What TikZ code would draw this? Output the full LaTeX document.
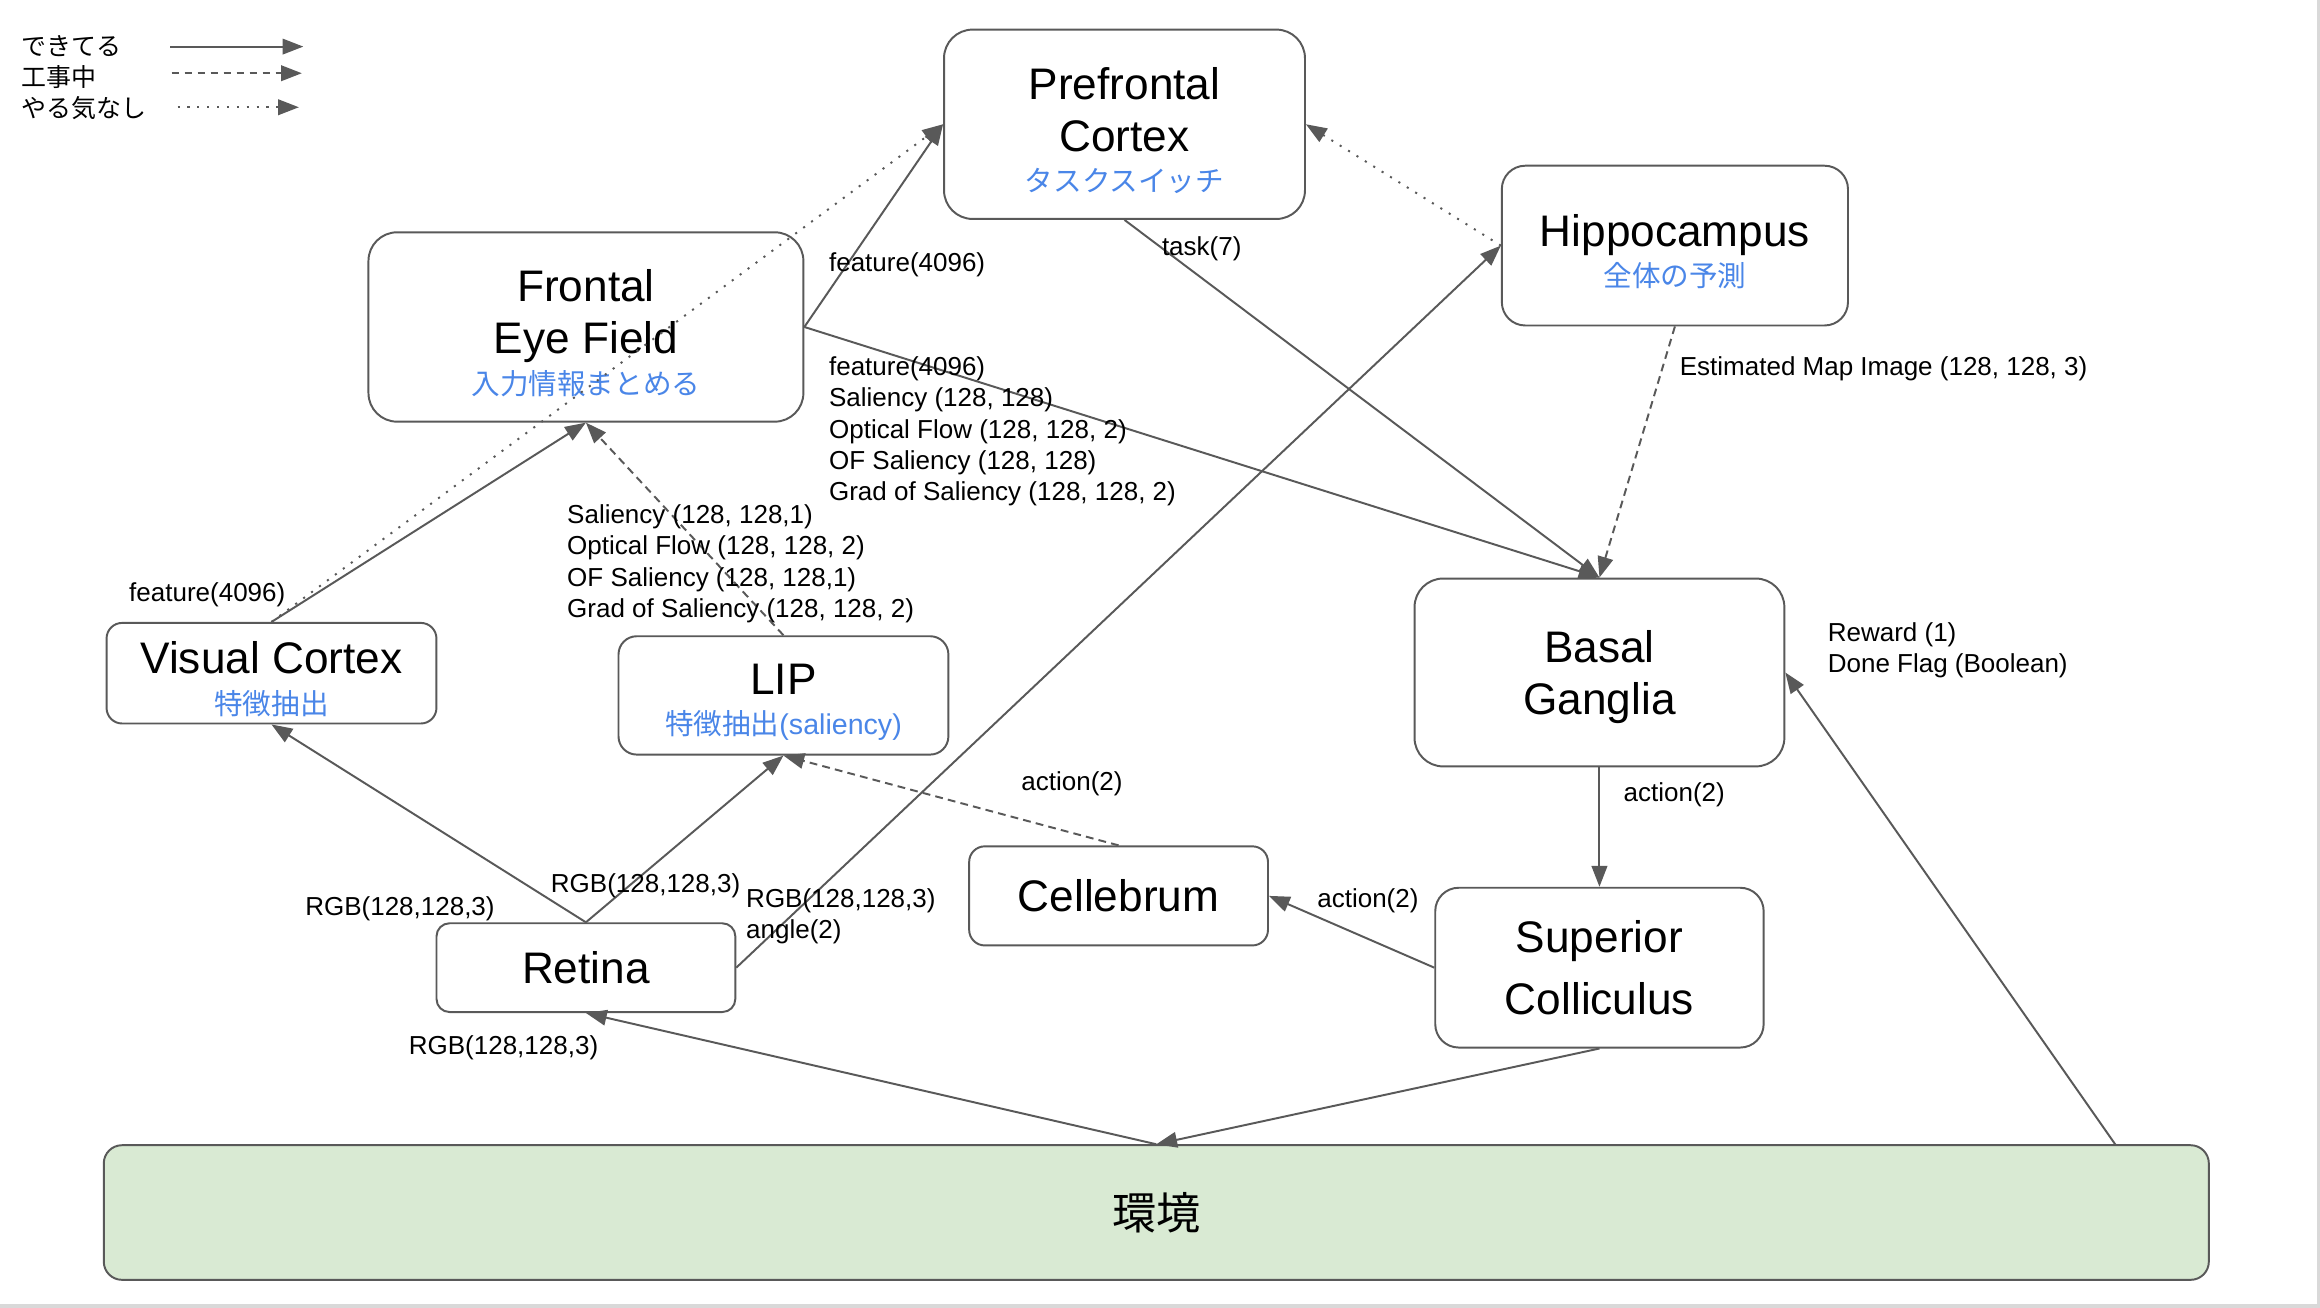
\documentclass[tikz,border=0pt]{standalone}
\usepackage{fontspec}
\setmainfont{Liberation Sans}
\newfontfamily\jp{Noto Sans CJK JP}
\usepackage{tikz}
\usetikzlibrary{arrows.meta}
\definecolor{linegray}{HTML}{595959}
\definecolor{subblue}{HTML}{4A86E8}
\definecolor{envgreen}{HTML}{D9EAD3}
\definecolor{edgegray}{HTML}{D9D9D9}
\newcommand\bigtxt{\fontsize{17}{20}\selectfont}
\newcommand\subtxt{\fontsize{11}{14.5}\selectfont\color{subblue}}
\newcommand\lbltxt{\fontsize{10}{12.1}\selectfont}
\newcommand\keytxt{\fontsize{9.6}{11}\selectfont\jp}
\newcommand\toprule{\rule{0pt}{17pt}}

\begin{document}
\begin{tikzpicture}[x=0.02cm,y=-0.02cm,
  area/.style={draw=linegray,line width=0.75pt,fill=white,align=center,inner sep=0pt,font=\bigtxt,rounded corners=#1},
  area/.default=10pt,
  lbl/.style={anchor=west,align=left,inner sep=0pt,font=\lbltxt,yshift=-1.1pt},
  key/.style={anchor=west,inner sep=0pt,font=\keytxt},
  conn/.style={draw=linegray,line width=0.75pt,-{Triangle[length=8pt,width=6pt]}},
  wip/.style={conn,dash pattern=on 3pt off 2pt},
  nah/.style={conn,dash pattern=on 0.8pt off 3pt}]
\useasboundingbox (0,0) rectangle (1568,884);
\fill[white] (0,0) rectangle (1568,884);
\fill[edgegray] (1566,0) rectangle (1568,884);
\fill[edgegray] (0,881.3) rectangle (1568,884);

\node[key] (k1) at (14,31.5) {できてる};
\node[key] (k2) at (14,52) {工事中};
\node[key] (k3) at (14,73) {やる気なし};
\coordinate (k1a) at (115,31.5); \coordinate (k1b) at (205,31.5);
\coordinate (k2a) at (116,49.5); \coordinate (k2b) at (204,49.5);
\coordinate (k3a) at (120,72.5); \coordinate (k3b) at (202,72.5);
\draw[conn] (k1a) -- (k1b);
\draw[wip] (k2a) -- (k2b);
\draw[nah] (k3a) -- (k3b);

\node[area=11pt,minimum width=4.88cm,minimum height=2.56cm] (pfc) at (760,84) {\toprule Prefrontal\\Cortex\\[-4.5pt]\subtxt{\jp タスクスイッチ}};
\node[area=9pt,minimum width=4.68cm,minimum height=2.16cm] (hip) at (1132,166) {\toprule Hippocampus\\[-4.5pt]\subtxt{\jp 全体の予測}};
\node[area=11pt,minimum width=5.88cm,minimum height=2.56cm] (fef) at (396,221) {\toprule Frontal\\Eye Field\\[-4.5pt]\subtxt{\jp 入力情報まとめる}};
\node[area=6pt,minimum width=4.46cm,minimum height=1.36cm] (vc) at (183.5,455) {\toprule Visual Cortex\\[-4.5pt]\subtxt{\jp 特徴抽出}};
\node[area=7pt,minimum width=4.46cm,minimum height=1.6cm] (lip) at (529.5,470) {\toprule LIP\\[-4.5pt]\subtxt{\jp 特徴抽出}(saliency)};
\node[area=11pt,minimum width=5cm,minimum height=2.54cm] (bg) at (1081,454.5) {\rule{0pt}{15.5pt}Basal\\Ganglia};
\node[area=6pt,minimum width=4.04cm,minimum height=1.34cm] (cb) at (756,605.5) {Cellebrum};
\node[area=9pt,minimum width=4.44cm,minimum height=2.16cm] (sc) at (1081,654) {Superior\\[4pt]Colliculus};
\node[area=5pt,minimum width=4.04cm,minimum height=1.2cm] (ret) at (396,654) {Retina};
\node[area=7pt,fill=envgreen,minimum width=28.46cm,minimum height=1.82cm,font=\bigtxt\jp] (env) at (781.5,819.5) {環境};
\coordinate (envr) at (1430,774);

\draw[conn] (vc.north) -- (fef.south);
\draw[nah] (vc.north) -- (pfc.west);
\draw[conn] (fef.east) -- (pfc.west);
\draw[conn] (fef.east) -- (bg.north);
\draw[wip] (lip.north) -- (fef.south);
\draw[conn] (pfc.south) -- (bg.north);
\draw[nah] (hip.west) -- (pfc.east);
\draw[wip] (hip.south) -- (bg.north);
\draw[conn] (ret.east) -- (hip.west);
\draw[conn] (ret.north) -- (vc.south);
\draw[conn] (ret.north) -- (lip.south);
\draw[wip] (cb.north) -- (lip.south);
\draw[conn] (bg.south) -- (sc.north);
\draw[conn] (sc.west) -- (cb.east);
\draw[conn] (sc.south) -- (env.north);
\draw[conn] (env.north) -- (ret.south);
\draw[conn] (envr) -- (bg.east);

\node[lbl] (lvc) at (87,400) {feature(4096)};
\node[lbl] (lfp) at (560,177) {feature(4096)};
\node[lbl] (lfb) at (560,289.6) {feature(4096)\\Saliency (128, 128)\\Optical Flow (128, 128, 2)\\OF Saliency (128, 128)\\Grad of Saliency (128, 128, 2)};
\node[lbl] (llf) at (383,379) {Saliency (128, 128,1)\\Optical Flow (128, 128, 2)\\OF Saliency (128, 128,1)\\Grad of Saliency (128, 128, 2)};
\node[lbl] (ltask) at (785,166) {task(7)};
\node[lbl] (lmap) at (1135,247) {Estimated Map Image (128, 128, 3)};
\node[lbl] (lrh) at (504,617.5) {RGB(128,128,3)\\angle(2)};
\node[lbl] (lrv) at (206,612) {RGB(128,128,3)};
\node[lbl] (lrl) at (372,597) {RGB(128,128,3)};
\node[lbl] (lcl) at (690,528) {action(2)};
\node[lbl] (lbs) at (1097,535) {action(2)};
\node[lbl] (lsc) at (890,607) {action(2)};
\node[lbl] (ler) at (276,706) {RGB(128,128,3)};
\node[lbl] (lrw) at (1235,437.5) {Reward (1)\\Done Flag (Boolean)};
\end{tikzpicture}
\end{document}
